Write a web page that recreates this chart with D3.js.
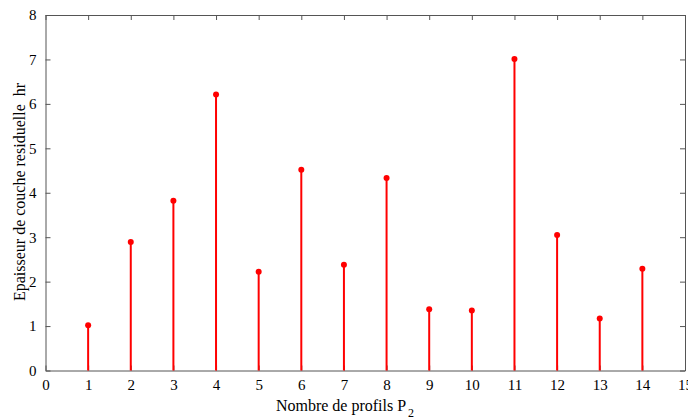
<!DOCTYPE html>
<html>
<head>
<meta charset="utf-8">
<script src="https://cdn.jsdelivr.net/npm/d3@7"></script>
<style>
    body { margin: 0; background: #fff; }
    svg { display: block; }
    .axis path, .axis line { stroke: #555; }
</style>
</head>
<body>
<div id="chart"></div>
<script>
const profiles = [1, 2, 3, 4, 5, 6, 7, 8, 9, 10, 11, 12, 13, 14];
const thickness = [1.02, 2.89, 3.82, 6.21, 2.22, 4.52, 2.38, 4.33, 1.38, 1.35, 7.01, 3.05, 1.17, 2.29];
const xTicks = d3.range(0, 16);
const yTicks = d3.range(0, 9);

const WIDTH = 688;
const HEIGHT = 419;
const MARGIN = { top: 15, right: 3, bottom: 48.5, left: 45.5 };
const INNER_WIDTH = WIDTH - MARGIN.left - MARGIN.right;
const INNER_HEIGHT = HEIGHT - MARGIN.top - MARGIN.bottom;
const SERIF = "'Liberation Serif', 'Times New Roman', Times, serif";

const data = profiles.map((p, i) => ({ p: p, h: thickness[i] }));

const xScale = d3.scaleLinear().domain([0, 15]).range([0, INNER_WIDTH]);
const yScale = d3.scaleLinear().domain([0, 8]).range([INNER_HEIGHT, 0]);

const svg = d3.select('#chart')
    .append('svg')
    .attr('width', WIDTH)
    .attr('height', HEIGHT);

const inner = svg.append('g')
    .attr('transform', `translate(${MARGIN.left},${MARGIN.top})`);

// axes (matlab style box, ticks inside)
inner.append('g')
    .attr('class', 'axis')
    .attr('transform', `translate(0,${INNER_HEIGHT})`)
    .call(d3.axisBottom(xScale).tickValues(xTicks).tickSize(-5).tickPadding(9).tickSizeOuter(0))
    .attr('font-family', SERIF)
    .attr('font-size', 15);

inner.append('g')
    .attr('class', 'axis')
    .call(d3.axisTop(xScale).tickValues(xTicks).tickSize(-5).tickFormat('').tickSizeOuter(0));

inner.append('g')
    .attr('class', 'axis')
    .call(d3.axisLeft(yScale).tickValues(yTicks).tickSize(-5).tickPadding(9).tickSizeOuter(0))
    .attr('font-family', SERIF)
    .attr('font-size', 15);

inner.append('g')
    .attr('class', 'axis')
    .attr('transform', `translate(${INNER_WIDTH},0)`)
    .call(d3.axisRight(yScale).tickValues(yTicks).tickSize(-5).tickFormat('').tickSizeOuter(0));

inner.selectAll('.axis text').attr('fill', '#000');

// stems
inner.selectAll('line.stem')
    .data(data)
    .enter()
    .append('line')
    .attr('class', 'stem')
    .attr('x1', d => xScale(d.p))
    .attr('x2', d => xScale(d.p))
    .attr('y1', yScale(0))
    .attr('y2', d => yScale(d.h))
    .attr('stroke', '#ff0000')
    .attr('stroke-width', 2);

inner.selectAll('circle')
    .data(data)
    .enter()
    .append('circle')
    .attr('cx', d => xScale(d.p))
    .attr('cy', d => yScale(d.h))
    .attr('r', 3)
    .attr('fill', '#ff0000');

// titles
const xTitle = svg.append('text')
    .attr('font-family', SERIF)
    .attr('font-size', 16)
    .attr('x', 345)
    .attr('y', 411)
    .attr('text-anchor', 'middle');
xTitle.append('tspan').text('Nombre de profils P');
xTitle.append('tspan').attr('dy', 6).attr('dx', 2).attr('font-size', 12).text('2');

svg.append('text')
    .attr('font-family', SERIF)
    .attr('font-size', 16)
    .attr('transform', 'rotate(-90)')
    .attr('x', -192)
    .attr('y', 25)
    .attr('text-anchor', 'middle')
    .attr('xml:space', 'preserve')
    .text('Epaisseur de couche residuelle  hr');
</script>
</body>
</html>
